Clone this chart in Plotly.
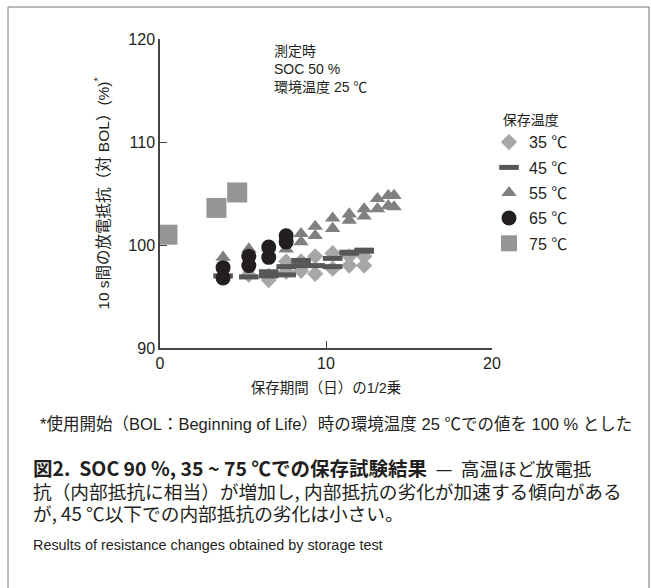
import plotly.graph_objects as go

# ---- data (sqrt of storage days vs. resistance %) ----
x35 = [3.8, 5.35, 6.55, 6.55, 7.6, 7.6, 8.5, 8.5, 9.35, 9.35, 10.4, 10.4, 11.4, 11.4, 12.3, 12.3]
y35 = [96.9, 97.1, 97.0, 96.6, 98.4, 97.4, 98.4, 97.5, 98.9, 97.2, 99.2, 97.7, 98.9, 98.0, 98.9, 98.0]

x45 = [3.8, 5.35, 6.55, 6.55, 7.6, 7.6, 8.5, 8.5, 9.35, 10.4, 10.4, 11.4, 11.4, 12.3, 12.3]
y45 = [97.0, 96.9, 97.4, 97.0, 97.9, 97.1, 98.5, 98.0, 98.0, 98.7, 97.9, 99.2, 99.3, 99.4, 99.5]

x55 = [3.8, 5.35, 6.55, 7.6, 8.5, 8.5, 9.35, 9.35, 10.4, 10.4, 11.4, 11.4, 12.3, 12.3,
       13.1, 13.1, 13.75, 13.75, 14.1, 14.1]
y55 = [98.8, 99.6, 99.7, 99.6, 101.1, 100.3, 101.8, 100.9, 102.6, 101.6, 103.0, 102.4, 103.5, 102.8,
       104.5, 103.5, 104.8, 103.8, 104.8, 103.7]

x65 = [3.8, 3.8, 5.35, 5.35, 6.55, 6.55, 7.6, 7.6]
y65 = [97.8, 96.8, 98.9, 98.0, 99.8, 98.8, 100.9, 100.3]

x75 = [0.45, 3.4, 4.65]
y75 = [101.0, 103.6, 105.1]

names = ["35 ℃", "45 ℃", "55 ℃", "65 ℃", "75 ℃"]
x_ticks = [0, 10, 20]
y_ticks = [90, 100, 110, 120]

# ---- layout geometry (pixels) ----
WID, HEI = 651, 588
L, R, T, B = 160, 159, 39, 240
PW, PH = WID - L - R, HEI - T - B


def px(xp):
    return (xp - L) / PW


def py(yp):
    return 1 - (yp - T) / PH


SANS = "Liberation Sans, Noto Sans CJK JP"
CJK = "Noto Sans CJK JP"
TXT = "#231f20"

fig = go.Figure()

# drawing order: diamonds, triangles, bars, circles, squares; legend order by rank
fig.add_trace(go.Scatter(x=x35, y=y35, mode="markers", name=names[0], legendrank=1,
                         legendgroup="a",
                         marker=dict(symbol="diamond", size=12.5, color="#a7a7a7", line=dict(width=0))))
fig.add_trace(go.Scatter(x=x55, y=y55, mode="markers", name=names[2], legendrank=3,
                         legendgroup="c",
                         marker=dict(symbol="triangle-up", size=13.5, color="#808080", line=dict(width=0))))
fig.add_trace(go.Scatter(x=x45, y=y45, mode="markers", name=names[1], legendrank=2,
                         legendgroup="b",
                         marker=dict(symbol="line-ew", size=14, color="#575757",
                                     line=dict(width=5, color="#575757"))))
fig.add_trace(go.Scatter(x=x65, y=y65, mode="markers", name=names[3], legendrank=4,
                         legendgroup="d",
                         marker=dict(symbol="circle", size=15, color="#231f20", line=dict(width=0))))
fig.add_trace(go.Scatter(x=x75, y=y75, mode="markers", name=names[4], legendrank=5,
                         legendgroup="e",
                         marker=dict(symbol="square", size=20, color="#959595", line=dict(width=0))))

axis_common = dict(showline=True, linecolor="#444", linewidth=1.5, ticks="inside",
                   ticklen=7, tickwidth=1.2, tickcolor="#444", showgrid=False, zeroline=False,
                   tickfont=dict(family=SANS, size=16, color=TXT))

fig.update_xaxes(range=[0, 20], tickvals=x_ticks, **axis_common,
                 title=dict(text="保存期間（日）の1/2乗", font=dict(family=SANS, size=14.5, color=TXT),
                            standoff=12))
fig.update_yaxes(range=[90, 120], tickvals=y_ticks, **axis_common,
                 title=dict(text="10 s間の放電抵抗（対 BOL）(%)<sup>*</sup>",
                            font=dict(family=SANS, size=15.5, color=TXT), standoff=15))

annotations = [
    dict(text="測定時<br>SOC 50 %<br>環境温度 25 ℃", x=px(272), y=py(41), xanchor="left",
         yanchor="top", align="left", font=dict(family=SANS, size=14, color=TXT)),
    dict(text="*使用開始（BOL：Beginning of Life）時の環境温度 25 ℃での値を 100 % とした",
         x=px(336), y=py(424), xanchor="center", yanchor="middle",
         font=dict(family=SANS, size=16.5, color=TXT)),
    dict(text="<b>図2.  SOC 90 %, 35 ~ 75 ℃での保存試験結果</b>  "
              "<span style='font-size:18.7px'>—  高温ほど放電抵</span>",
         x=px(31), y=py(467), xanchor="left", yanchor="middle", align="left",
         font=dict(family=CJK, size=19.5, color=TXT)),
    dict(text="抗（内部抵抗に相当）が増加し, 内部抵抗の劣化が加速する傾向がある",
         x=px(31), y=py(490), xanchor="left", yanchor="middle", align="left",
         font=dict(family=CJK, size=18.7, color=TXT)),
    dict(text="が, 45 ℃以下での内部抵抗の劣化は小さい。",
         x=px(31), y=py(512), xanchor="left", yanchor="middle", align="left",
         font=dict(family=CJK, size=18.7, color=TXT)),
    dict(text="Results of resistance changes obtained by storage test",
         x=px(31), y=py(545), xanchor="left", yanchor="middle", align="left",
         font=dict(family=SANS, size=14.4, color=TXT)),
]
for a in annotations:
    a.update(xref="paper", yref="paper", showarrow=False)

fig.update_layout(
    width=WID, height=HEI,
    margin=dict(l=L, r=R, t=T, b=B, pad=0),
    paper_bgcolor="white", plot_bgcolor="white",
    font=dict(family=SANS, color=TXT),
    showlegend=True,
    legend=dict(x=px(489), y=py(107), xanchor="left", yanchor="top",
                title=dict(text="\u00a0\u00a0\u00a0保存温度", font=dict(family=SANS, size=14, color=TXT)),
                font=dict(family=SANS, size=16, color=TXT),
                tracegroupgap=1.5, bgcolor="rgba(0,0,0,0)", itemwidth=30),
    annotations=annotations,
    shapes=[dict(type="rect", xref="paper", yref="paper",
                 x0=px(8), x1=px(649), y0=py(620), y1=py(7),
                 line=dict(color="#777", width=1), fillcolor="rgba(0,0,0,0)")],
)

fig.write_html("out.html", config={"displayModeBar": False},
               post_script="document.body.style.margin='0';document.body.style.overflow='hidden';")
